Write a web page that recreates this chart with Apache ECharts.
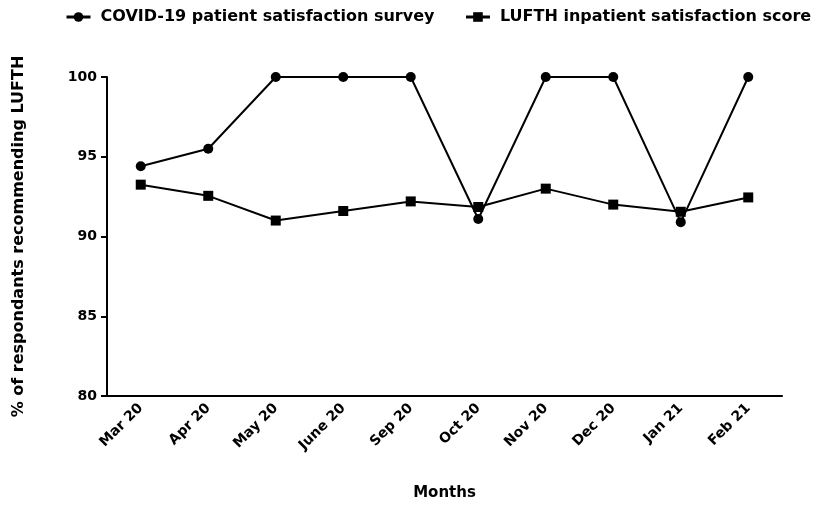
<!DOCTYPE html>
<html>
<head>
<meta charset="utf-8">
<script src="https://cdn.jsdelivr.net/npm/echarts@6/dist/echarts.min.js"></script>
<style>html,body{margin:0;padding:0;background:#fff;}#c{width:826px;height:506px;}</style>
</head>
<body>
<div id="c"></div>
<script>
const categories = ['Mar 20','Apr 20','May 20','June 20','Sep 20','Oct 20','Nov 20','Dec 20','Jan 21','Feb 21'];
const covidSurvey = [94.4, 95.5, 100, 100, 100, 91.1, 100, 100, 90.9, 100];
const lufthScore = [93.25, 92.55, 91.0, 91.6, 92.2, 91.85, 93.0, 92.0, 91.55, 92.45];
const yTicks = { min: 80, max: 100, interval: 5 };

const font = 'DejaVu Sans, Liberation Sans, Arial, sans-serif';
const chart = echarts.init(document.getElementById('c'));
chart.setOption({
  animation: false,
  backgroundColor: '#fff',
  legend: {
    top: 4,
    left: 60,
    itemGap: 30,
    itemWidth: 24,
    itemHeight: 12,
    textStyle: { fontFamily: font, fontWeight: 'bold', fontSize: 16, color: '#000', padding: [0, 0, 0, 5] },
    data: [
      { name: 'COVID-19 patient satisfaction survey', itemStyle: { color: '#000' }, lineStyle: { color: '#000', width: 3 } },
      { name: 'LUFTH inpatient satisfaction score', itemStyle: { color: '#000' }, lineStyle: { color: '#000', width: 3 } }
    ]
  },
  grid: { left: 107, right: 44, top: 77, bottom: 110, containLabel: false },
  xAxis: {
    type: 'category',
    data: categories,
    boundaryGap: true,
    name: 'Months',
    nameLocation: 'middle',
    nameGap: 90,
    nameTextStyle: { fontFamily: font, fontWeight: 'bold', fontSize: 15, color: '#000' },
    axisLine: { lineStyle: { color: '#000', width: 2 } },
    axisTick: { alignWithLabel: true, length: 6, lineStyle: { color: '#000', width: 2 } },
    axisLabel: { rotate: 45, fontFamily: font, fontWeight: 'bold', fontSize: 14, color: '#000', margin: 10 }
  },
  yAxis: {
    type: 'value',
    min: yTicks.min,
    max: yTicks.max,
    interval: yTicks.interval,
    name: '% of respondants recommending LUFTH',
    nameLocation: 'middle',
    nameGap: 80,
    nameTextStyle: { fontFamily: font, fontWeight: 'bold', fontSize: 16, color: '#000' },
    axisLine: { show: true, lineStyle: { color: '#000', width: 2 } },
    axisTick: { show: true, length: 6, lineStyle: { color: '#000', width: 2 } },
    axisLabel: { fontFamily: font, fontWeight: 'bold', fontSize: 14, color: '#000', margin: 10 },
    splitLine: { show: false }
  },
  series: [
    {
      name: 'COVID-19 patient satisfaction survey',
      type: 'line',
      data: covidSurvey,
      symbol: 'circle',
      symbolSize: 10,
      lineStyle: { color: '#000', width: 2 },
      itemStyle: { color: '#000' }
    },
    {
      name: 'LUFTH inpatient satisfaction score',
      type: 'line',
      data: lufthScore,
      symbol: 'rect',
      symbolSize: 10,
      lineStyle: { color: '#000', width: 2 },
      itemStyle: { color: '#000' }
    }
  ]
});
</script>
</body>
</html>
